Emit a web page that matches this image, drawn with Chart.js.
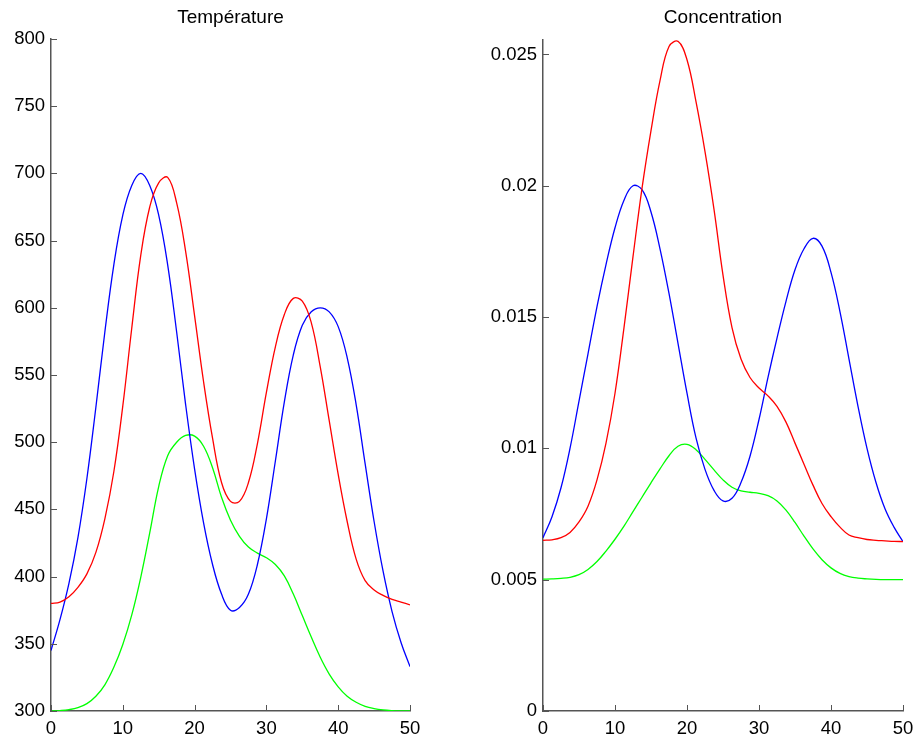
<!DOCTYPE html>
<html>
<head>
<meta charset="utf-8">
<script src="https://cdn.jsdelivr.net/npm/chart.js@4/dist/chart.umd.min.js"></script>
<style>
html,body{margin:0;padding:0;background:#fff;}
#wrap{position:relative;width:916px;height:745px;overflow:hidden;}
.pane{position:absolute;top:0;width:458px;height:745px;}
</style>
</head>
<body>
<div id="wrap">
  <div class="pane" style="left:0"><canvas id="c1" width="458" height="745"></canvas></div>
  <div class="pane" style="left:458px"><canvas id="c2" width="458" height="745"></canvas></div>
</div>
<script>
// ---------- Data ----------
const xTicks = [0, 10, 20, 30, 40, 50];
const tempTicks = [300, 350, 400, 450, 500, 550, 600, 650, 700, 750, 800];
const concTicks = [0, 0.005, 0.01, 0.015, 0.02, 0.025];
const concTickLabels = ['0', '0.005', '0.01', '0.015', '0.02', '0.025'];

// sample positions along the horizontal axis
const xs = [0, 1.25, 2.5, 3.75, 5, 6.25, 7.5, 8.75, 10, 11.25, 12.5, 13.75, 15, 16.25, 17.5, 18.75, 20,
            21.25, 22.5, 23.75, 25, 26.25, 27.5, 28.75, 30, 31.25, 32.5, 33.75, 35, 36.25, 37.5, 38.75, 40,
            41.25, 42.5, 43.75, 45, 46.25, 47.5, 48.75, 50];

// Température
const tBlue  = [345, 368, 395, 429, 473, 526, 582, 632, 669, 691, 700, 691, 669, 632, 582, 528, 480,
                440, 409, 387, 375, 377, 387, 409, 443, 486, 530, 565, 587, 597, 600, 597, 586,
                563, 528, 484, 441, 404, 374, 351, 333];
const tRed   = [380, 381, 385, 392, 402, 418, 443, 478, 527, 585, 639, 675, 693, 697, 678, 642, 594,
                545, 503, 470, 456, 456, 470, 499, 537, 571, 595, 607, 605, 589, 556, 516, 476,
                441, 413, 397, 390, 386, 383, 381, 379];
const tGreen = [300, 300.3, 301, 302.5, 305.5, 311, 319.5, 332.5, 349.5, 371.5, 399.5, 432.5, 467, 490, 500, 505, 504.5,
                497, 481, 459, 442, 430, 422, 417.5, 414, 409, 400.5, 387, 371, 355, 340, 327.5, 318,
                311, 306.5, 303.5, 301.8, 300.8, 300.3, 300.1, 300];

// Concentration
const cBlue  = [0.0066, 0.0074, 0.0085, 0.0100, 0.0118, 0.0136, 0.0154, 0.0170, 0.0184, 0.01945, 0.0200, 0.01985, 0.0190, 0.0176, 0.0159, 0.0140, 0.0121,
                0.0104, 0.0092, 0.0084, 0.0080, 0.0081, 0.0087, 0.0097, 0.0111, 0.0127, 0.0142, 0.0156, 0.0168, 0.0176, 0.0180, 0.0177, 0.0167,
                0.0152, 0.0134, 0.0116, 0.0100, 0.0087, 0.0077, 0.0070, 0.00645];
const cRed   = [0.0065, 0.00652, 0.0066, 0.0068, 0.0072, 0.0078, 0.0088, 0.0102, 0.0121, 0.0146, 0.0173, 0.0199, 0.0221, 0.0240, 0.0253, 0.0255, 0.0248,
                0.0232, 0.0213, 0.0191, 0.0166, 0.0146, 0.0134, 0.0127, 0.0123, 0.0120, 0.0116, 0.0110, 0.0102, 0.0094, 0.0086, 0.0079, 0.0074,
                0.0070, 0.0067, 0.0066, 0.00653, 0.0065, 0.00648, 0.00646, 0.00645];
const cGreen = [0.00502, 0.00503, 0.00505, 0.00509, 0.00519, 0.00539, 0.00569, 0.00609, 0.00654, 0.00704, 0.00759, 0.00814, 0.00869, 0.00922, 0.00972, 0.01008, 0.01015,
                0.00995, 0.00958, 0.00918, 0.00880, 0.00852, 0.00838, 0.00833, 0.00829, 0.00820, 0.00800, 0.00765, 0.00718, 0.00666, 0.00617, 0.00576, 0.00545,
                0.00524, 0.00512, 0.00506, 0.00503, 0.00501, 0.0050, 0.0050, 0.0050];

// ---------- Styling ----------
const FONT = '"Liberation Sans", Arial, Helvetica, sans-serif';
const AXIS = '#555555';
const pts = ys => xs.map((x, i) => ({x: x, y: ys[i]}));

const axesPlugin = {
  id: 'matlabAxes',
  afterDraw(chart, args, opts) {
    const ctx = chart.ctx, a = chart.chartArea;
    const sx = chart.scales.x, sy = chart.scales.y;
    ctx.save();
    ctx.strokeStyle = AXIS;
    ctx.lineWidth = 1;
    sx.ticks.forEach(t => {
      const px = Math.round(sx.getPixelForValue(t.value)) + 0.5;
      ctx.beginPath(); ctx.moveTo(px, a.bottom); ctx.lineTo(px, a.bottom - 6); ctx.stroke();
    });
    sy.ticks.forEach(t => {
      const py = Math.round(sy.getPixelForValue(t.value)) + 0.5;
      ctx.beginPath(); ctx.moveTo(a.left, py); ctx.lineTo(a.left + 6, py); ctx.stroke();
    });
    ctx.fillStyle = '#000';
    ctx.font = '19px ' + FONT;
    ctx.textAlign = 'center';
    ctx.textBaseline = 'middle';
    ctx.fillText(opts.text, (a.left + a.right) / 2, 18);
    ctx.restore();
  }
};

function makeChart(id, cfg) {
  const ds = (data, color) => ({
    data: data, borderColor: color, borderWidth: 1.3, pointRadius: 0,
    fill: false, tension: 0.4
  });
  return new Chart(document.getElementById(id), {
    type: 'line',
    data: {datasets: [
      ds(cfg.red, '#ff0000'),
      ds(cfg.blue, '#0000ff'),
      ds(cfg.green, '#00ff00')
    ]},
    options: {
      responsive: false, animation: false, devicePixelRatio: 1,
      layout: {padding: cfg.padding},
      plugins: {legend: {display: false}, tooltip: {enabled: false}, matlabAxes: {text: cfg.title}},
      scales: {
        x: {
          type: 'linear', min: 0, max: 50,
          afterBuildTicks: s => { s.ticks = xTicks.map(v => ({value: v})); },
          afterFit: s => { s.height = 34; s.paddingLeft = 0; s.paddingRight = 0; },
          grid: {display: false, drawTicks: false},
          border: {display: true, color: AXIS, width: 1.5},
          ticks: {color: '#000', font: {family: FONT, size: 18.5}, padding: 7, maxRotation: 0,
                  callback: v => String(v)}
        },
        y: {
          type: 'linear', min: cfg.ymin, max: cfg.ymax,
          afterBuildTicks: s => { s.ticks = cfg.yticks.map(v => ({value: v})); },
          afterFit: s => { s.width = cfg.yw; s.paddingTop = 0; s.paddingBottom = 0; },
          grid: {display: false, drawTicks: false},
          border: {display: true, color: AXIS, width: 1.5},
          ticks: {color: '#000', font: {family: FONT, size: 18.5}, padding: 6,
                  callback: (v, i) => cfg.ylabels[i]}
        }
      }
    },
    plugins: [axesPlugin]
  });
}

makeChart('c1', {
  title: 'Température',
  red: pts(tRed), blue: pts(tBlue), green: pts(tGreen),
  ymin: 300, ymax: 800, yticks: tempTicks, ylabels: tempTicks.map(String),
  yw: 51, padding: {top: 39, right: 48, bottom: 0, left: 0}
});

makeChart('c2', {
  title: 'Concentration',
  red: pts(cRed), blue: pts(cBlue), green: pts(cGreen),
  ymin: 0, ymax: 0.02555, yticks: concTicks, ylabels: concTickLabels,
  yw: 85, padding: {top: 40, right: 13, bottom: 0, left: 0}
});
</script>
</body>
</html>
